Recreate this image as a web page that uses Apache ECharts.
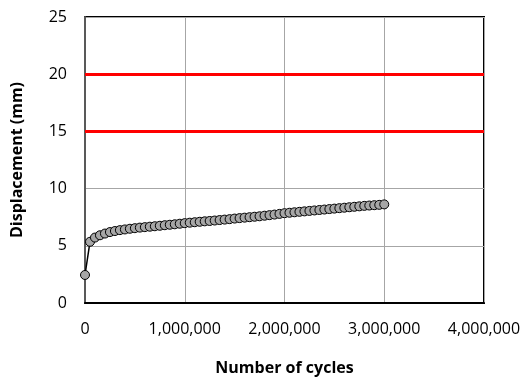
<!DOCTYPE html>
<html>
<head>
<meta charset="utf-8">
<script src="https://cdn.jsdelivr.net/npm/echarts@6/dist/echarts.min.js"></script>
<style>html,body{margin:0;padding:0;background:#fff}#c{width:527px;height:381px}</style>
</head>
<body>
<div id="c"></div>
<script>
var cycles = [0,50000,100000,150000,200000,250000,300000,350000,400000,450000,
  500000,550000,600000,650000,700000,750000,800000,850000,900000,950000,
  1000000,1050000,1100000,1150000,1200000,1250000,1300000,1350000,1400000,1450000,
  1500000,1550000,1600000,1650000,1700000,1750000,1800000,1850000,1900000,1950000,
  2000000,2050000,2100000,2150000,2200000,2250000,2300000,2350000,2400000,2450000,
  2500000,2550000,2600000,2650000,2700000,2750000,2800000,2850000,2900000,2950000,3000000];
var displacement = [2.45,5.35,5.72,5.92,6.07,6.2,6.29,6.37,6.43,6.49,
  6.54,6.59,6.63,6.67,6.71,6.75,6.8,6.84,6.88,6.93,
  6.98,7.02,7.06,7.1,7.14,7.17,7.21,7.25,7.29,7.33,
  7.38,7.42,7.46,7.5,7.54,7.58,7.63,7.68,7.73,7.79,
  7.85,7.89,7.93,7.97,8.01,8.05,8.09,8.13,8.17,8.21,
  8.25,8.29,8.33,8.37,8.41,8.45,8.49,8.52,8.55,8.58,8.62];
var limitLines = [15, 20];
var xTicks = [0, 1000000, 2000000, 3000000, 4000000];
var yTicks = [0, 5, 10, 15, 20, 25];

var font = "'Open Sans', 'Liberation Sans', sans-serif";
var chart = echarts.init(document.getElementById('c'), null, {renderer: 'canvas'});
var pts = cycles.map(function (c, i) { return [c, displacement[i]]; });
chart.setOption({
  backgroundColor: '#fff',
  animation: false,
  grid: {left: 85, right: 43, top: 17, bottom: 76, show: true, borderColor: '#000', borderWidth: 2, backgroundColor: 'transparent'},
  xAxis: {
    type: 'value', min: xTicks[0], max: xTicks[xTicks.length - 1], interval: 1000000,
    name: 'Number of cycles', nameLocation: 'middle', nameGap: 57,
    nameTextStyle: {fontFamily: font, fontWeight: 'bold', fontSize: 16, color: '#000'},
    axisLine: {show: true, lineStyle: {color: '#000', width: 2}},
    axisTick: {show: false},
    axisLabel: {fontFamily: font, fontSize: 16, color: '#000', margin: 18,
      formatter: function (v) { return v.toLocaleString('en-US'); }},
    splitLine: {show: true, lineStyle: {color: '#A6A6A6', width: 1}}
  },
  yAxis: {
    type: 'value', min: yTicks[0], max: yTicks[yTicks.length - 1], interval: 5,
    name: 'Displacement (mm)', nameLocation: 'middle', nameGap: 60, nameRotate: 90,
    nameTextStyle: {fontFamily: font, fontWeight: 'bold', fontSize: 16, color: '#000'},
    axisLine: {show: true, lineStyle: {color: '#595959', width: 2}},
    axisTick: {show: false},
    axisLabel: {fontFamily: font, fontSize: 16, color: '#000', margin: 18},
    splitLine: {show: true, lineStyle: {color: '#A6A6A6', width: 1}}
  },
  series: [
    {
      type: 'line', data: [], silent: true,
      markLine: {
        silent: true, symbol: ['none', 'none'], label: {show: false},
        lineStyle: {color: '#FF0000', width: 3, type: 'solid'},
        data: limitLines.map(function (v) { return {yAxis: v}; })
      }
    },
    {
      type: 'line', data: pts, symbol: 'circle', symbolSize: 9,
      lineStyle: {color: '#000', width: 1.5},
      itemStyle: {color: '#A6A6A6', borderColor: '#000', borderWidth: 1},
      z: 5
    }
  ]
});
</script>
</body>
</html>
